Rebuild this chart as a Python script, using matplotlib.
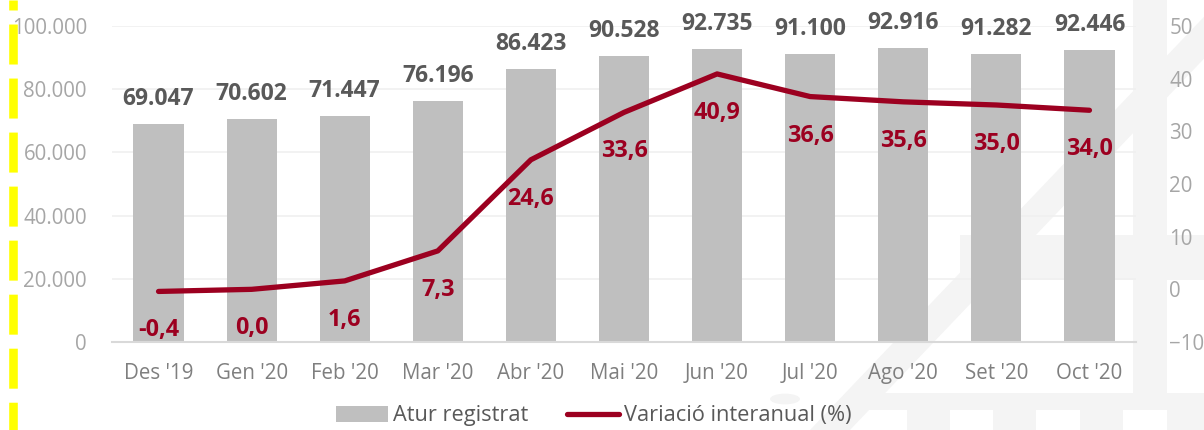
import matplotlib
matplotlib.use("Agg")
import matplotlib.pyplot as plt
from matplotlib.ticker import FuncFormatter, MultipleLocator
from matplotlib.patches import Polygon, Rectangle, Circle
from matplotlib.lines import Line2D

# ---- data ----
months = ["Des '19", "Gen '20", "Feb '20", "Mar '20", "Abr '20", "Mai '20",
          "Jun '20", "Jul '20", "Ago '20", "Set '20", "Oct '20"]
atur = [69047, 70602, 71447, 76196, 86423, 90528, 92735, 91100, 92916, 91282, 92446]
variacio = [-0.4, 0.0, 1.6, 7.3, 24.6, 33.6, 40.9, 36.6, 35.6, 35.0, 34.0]
bar_label = "Atur registrat"
line_label = "Variació interanual (%)"

BAR_C = "#BFBFBF"
LINE_C = "#9C0020"
plt.rcParams['font.family'] = ['Open Sans', 'DejaVu Sans']
plt.rcParams['lines.scale_dashes'] = False

W, H = 1204, 430
fig = plt.figure(figsize=(W / 100, H / 100), dpi=100)
fig.patch.set_facecolor("white")

def fx(px):
    return px / W

def fy(py):
    return 1 - py / H

# faint background watermark
wm = "#F4F4F4"
shapes = [
    Polygon([(fx(810), fy(430)), (fx(850), fy(430)), (fx(1260), fy(0)), (fx(1220), fy(0))], closed=True),
    Rectangle((fx(960), fy(280)), fx(1204 - 960), (280 - 235) / H),
    Rectangle((fx(1133), fy(393)), fx(34), (393 - 0) / H),
    Rectangle((fx(860), fy(410)), fx(1204 - 860), 17 / H),
]
for x0 in [907, 993, 1080, 1167]:
    shapes.append(Rectangle((fx(x0), fy(430)), fx(43), 20 / H))
for s in shapes:
    s.set_transform(fig.transFigure)
    s.set_facecolor(wm)
    s.set_edgecolor("none")
    s.set_zorder(-2)
    fig.patches.append(s)
circ = Circle((fx(785), fy(399)), 15 / W, transform=fig.transFigure, facecolor=wm,
              edgecolor="none", zorder=-2)
fig.patches.append(circ)

# axes
ax = fig.add_axes([fx(112), fy(342), fx(1136 - 112), (342 - 26) / H])
ax.set_zorder(1)
ax.patch.set_alpha(0)
x = list(range(len(months)))
bars = ax.bar(x, atur, width=0.54, color=BAR_C, zorder=2, label=bar_label)
ax.set_xlim(-0.5, len(months) - 0.5)
ax.set_ylim(0, 100000)
ax.yaxis.set_major_locator(MultipleLocator(20000))
ax.yaxis.set_major_formatter(FuncFormatter(lambda v, p: f"{int(v):,}".replace(",", ".")))
ax.grid(axis="y", color="#F0F0F0", linewidth=1.2, zorder=0)
ax.set_axisbelow(True)
for sp in ["top", "left", "right"]:
    ax.spines[sp].set_visible(False)
ax.spines["bottom"].set_color("#D9D9D9")
ax.spines["bottom"].set_linewidth(1.5)
ax.set_xticks(x)
ax.set_xticklabels(months)
ax.tick_params(axis="x", length=0, pad=15, labelsize=14.8, labelcolor="#7F7F7F")
ax.tick_params(axis="y", length=0, pad=18, labelsize=14.8, labelcolor="#A6A6A6")

for xi, v in zip(x, atur):
    ax.annotate(f"{v:,}".replace(",", "."), (xi, v), xytext=(0, 25), textcoords="offset pixels",
                ha="center", va="center", fontsize=16.5, fontweight="bold", color="#595959", zorder=5)

ax2 = ax.twinx()
ax2.set_zorder(2)
ax2.patch.set_alpha(0)
ln, = ax2.plot(x, variacio, color=LINE_C, linewidth=3.8, solid_capstyle="round",
               solid_joinstyle="round", zorder=4, label=line_label)
ax2.set_ylim(-10, 50)
ax2.yaxis.set_major_locator(MultipleLocator(10))
for sp in ["top", "left", "right", "bottom"]:
    ax2.spines[sp].set_visible(False)
ax2.tick_params(axis="y", length=0, pad=24, labelsize=14.8, labelcolor="#A6A6A6")
for xi, v in zip(x, variacio):
    ax2.annotate(f"{v:.1f}".replace(".", ","), (xi, v), xytext=(0, -39), textcoords="offset pixels",
                 ha="center", va="center", fontsize=16.8, fontweight="bold", color=LINE_C, zorder=5)

leg = fig.legend([bars, ln], [bar_label, line_label], loc="center", bbox_to_anchor=(0.493, fy(416)),
                 ncol=2, frameon=False, fontsize=15.7, handlelength=2.4, handletextpad=0.2,
                 columnspacing=1.8, labelcolor="#595959", borderpad=0)
leg.set_zorder(3)

# yellow dashed marker line at the left edge
yl = Line2D([fx(13), fx(13)], [1.0, 0.0], transform=fig.transFigure, color="#FFFF00",
            linewidth=6.2, dash_capstyle="butt", linestyle=(21.6, (28.8, 10.1)), zorder=5)
fig.lines.append(yl)

fig.savefig("out.png", dpi=100, facecolor="white")
